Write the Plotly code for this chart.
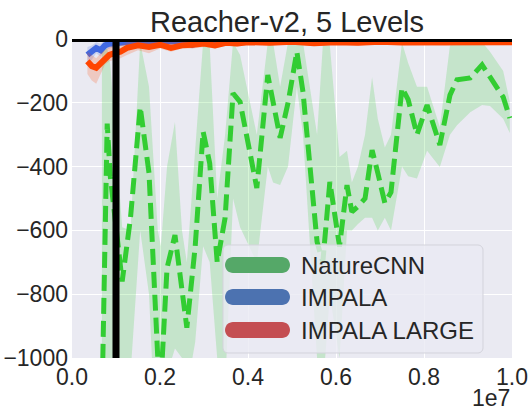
import plotly.graph_objects as go

# ---------------- data (x in units of 1e6 steps) ----------------
nature_x = [0.68, 0.8, 0.87, 1.14, 1.33, 1.55, 1.75, 1.95, 2.02, 2.16, 2.34, 2.5, 2.61, 2.8, 2.98,
            3.13, 3.3, 3.48, 3.66, 3.82, 4.2, 4.45, 4.57, 4.73, 4.91, 5.11, 5.25, 5.57, 5.7, 5.86,
            6.08, 6.25, 6.36, 6.5, 6.66, 6.82, 6.95, 7.11, 7.25, 7.5, 7.64, 7.84, 8.07, 8.36, 8.59,
            8.75, 9.05, 9.32, 9.5, 9.8, 9.95]
nature_mean = [-1150, -265, -430, -760, -560, -213, -420, -1000, -1080, -718, -615, -780, -905, -650, -290,
               -390, -700, -560, -170, -197, -467, -113, -197, -310, -200, -40, -166, -636, -700, -448,
               -650, -458, -542, -525, -500, -348, -420, -514, -480, -153, -190, -300, -207, -332, -176,
               -128, -122, -81, -119, -182, -248]
nature_upper = [-30, -30, -80, -590, -600, -10, -150, -600, -650, -400, -260, -600, -700, -350, -10,
                -20, -500, -300, -10, -50, -300, -10, -10, -150, -10, -10, -10, -300, -20, -20,
                -370, -350, -450, -400, -300, -120, -250, -340, -300, -12, -75, -150, -150, -276, -20,
                -10, -10, -10, -40, -100, -197]
nature_lower = [-1400, -1300, -1200, -1000, -1050, -600, -800, -1400, -1400, -1050, -970, -1000, -1100, -950, -650,
                -700, -1000, -1100, -500, -590, -700, -400, -450, -458, -400, -150, -300, -1000, -1100, -800,
                -1000, -600, -600, -580, -560, -560, -600, -560, -600, -400, -430, -437, -350, -401, -300,
                -270, -230, -207, -210, -250, -295]

impala_x = [0.35, 0.45, 0.55, 0.65, 0.75, 0.85, 1.0, 1.25, 1.5, 1.75, 2.0, 2.25, 2.5, 2.73, 3.0,
            3.5, 4.0, 4.5, 5.0, 5.5, 6.0, 6.5, 7.0, 7.5, 8.0, 8.5, 9.0, 9.5, 10.0]
impala_mean = [-50, -40, -28, -35, -20, -15, -12, -8, -6, -10, -5, -8, -6, -18, -6,
               -5, -7, -4, -6, -5, -4, -6, -5, -4, -5, -4, -5, -4, -5]
impala_upper = [-25, -20, -10, -15, -5, -3, -2, -1, -1, -2, -1, -1, -1, -5, -1,
                -1, -1, -1, -1, -1, -1, -1, -1, -1, -1, -1, -1, -1, -1]
impala_lower = [-80, -65, -45, -55, -35, -30, -25, -18, -14, -20, -12, -16, -14, -30, -13,
                -12, -14, -10, -12, -11, -10, -12, -10, -9, -10, -9, -10, -9, -10]

large_x = [0.35, 0.45, 0.55, 0.65, 0.75, 0.85, 0.95, 1.1, 1.25, 1.5, 1.75, 2.0, 2.25, 2.5, 2.75,
           3.0, 3.25, 3.5, 3.75, 4.0, 4.5, 5.0, 5.5, 6.0, 6.5, 7.0, 7.5, 8.0, 8.5, 9.0, 9.5, 10.0]
large_mean = [-70, -85, -90, -78, -62, -50, -45, -40, -28, -20, -25, -18, -28, -20, -18,
              -14, -20, -12, -14, -10, -12, -9, -13, -10, -12, -9, -11, -10, -12, -9, -11, -10]
large_upper = [-40, -50, -60, -45, -35, -25, -20, -20, -10, -5, -8, -5, -10, -5, -5,
               -3, -8, -3, -4, -2, -3, -2, -3, -2, -3, -2, -3, -2, -3, -2, -3, -2]
large_lower = [-110, -130, -140, -110, -80, -70, -65, -60, -50, -35, -45, -30, -40, -30, -30,
               -25, -30, -20, -24, -18, -20, -16, -22, -18, -20, -16, -19, -18, -20, -16, -19, -18]

level_switch = 1.0          # vertical marker (in 1e6 steps)
x_tick_vals = [0, 2, 4, 6, 8, 10]
x_tick_text = ["0.0", "0.2", "0.4", "0.6", "0.8", "1.0"]
y_tick_vals = [0, -200, -400, -600, -800, -1000]
y_tick_text = ["0", "\u2212200", "\u2212400", "\u2212600", "\u2212800", "\u22121000"]

legend_names = ["NatureCNN", "IMPALA", "IMPALA LARGE"]
legend_colors = ["#55a868", "#4c72b0", "#c44e52"]

SCALE = 1e6
W, H = 531, 406
ML, MR, MT, MB = 72, 19, 39, 48
PW, PH = W - ML - MR, H - MT - MB


def sx(v):
    return [a * SCALE for a in v]


def px2paper(px, py):
    return (px - ML) / PW, (H - MB - py) / PH


fig = go.Figure()


def band(x, up, lo, fillcolor):
    fig.add_trace(go.Scatter(x=sx(x), y=up, mode="lines", line=dict(width=0),
                             showlegend=False, hoverinfo="skip"))
    fig.add_trace(go.Scatter(x=sx(x), y=lo, mode="lines", line=dict(width=0),
                             fill="tonexty", fillcolor=fillcolor,
                             showlegend=False, hoverinfo="skip"))


# NatureCNN
band(nature_x, nature_upper, nature_lower, "rgba(50,205,50,0.2)")
fig.add_trace(go.Scatter(x=sx(nature_x), y=nature_mean, mode="lines", name=legend_names[0],
                         line=dict(color="#32cd32", width=5, dash="16px,7px"),
                         showlegend=False))
# IMPALA
band(impala_x, impala_upper, impala_lower, "rgba(65,105,225,0.2)")
fig.add_trace(go.Scatter(x=sx(impala_x), y=impala_mean, mode="lines", name=legend_names[1],
                         line=dict(color="#4169e1", width=6), showlegend=False))
# IMPALA LARGE
band(large_x, large_upper, large_lower, "rgba(255,69,0,0.2)")
fig.add_trace(go.Scatter(x=sx(large_x), y=large_mean, mode="lines", name=legend_names[2],
                         line=dict(color="#ff4500", width=6), showlegend=False))

# black reference lines
fig.add_shape(type="line", xref="x domain", yref="y", x0=0, x1=1, y0=0, y1=0,
              line=dict(color="black", width=6), layer="above")
fig.add_shape(type="line", xref="x", yref="y domain", x0=level_switch * SCALE,
              x1=level_switch * SCALE, y0=0, y1=1,
              line=dict(color="black", width=7), layer="above")


def rounded_rect(hw, hh, r):
    k = 0.5523 * r
    return (f"M {-hw + r},{-hh} L {hw - r},{-hh} "
            f"C {hw - r + k},{-hh} {hw},{-hh + r - k} {hw},{-hh + r} "
            f"L {hw},{hh - r} "
            f"C {hw},{hh - r + k} {hw - r + k},{hh} {hw - r},{hh} "
            f"L {-hw + r},{hh} "
            f"C {-hw + r - k},{hh} {-hw},{hh - r + k} {-hw},{hh - r} "
            f"L {-hw},{-hh + r} "
            f"C {-hw},{-hh + r - k} {-hw + r - k},{-hh} {-hw + r},{-hh} Z")


# legend (drawn manually to match the thick round-capped symbols)
box_l, box_r, box_t, box_b = 223, 483, 245, 353
cx, cy = px2paper((box_l + box_r) / 2, (box_t + box_b) / 2)
fig.add_shape(type="path", xref="paper", yref="paper", xsizemode="pixel", ysizemode="pixel",
              xanchor=cx, yanchor=cy,
              path=rounded_rect((box_r - box_l) / 2, (box_b - box_t) / 2, 5),
              fillcolor="rgba(234,234,242,0.8)", line=dict(color="#d3d3db", width=1),
              layer="above")
item_y = [265, 297, 330]
for name, col, iy in zip(legend_names, legend_colors, item_y):
    sxp, syp = px2paper(257.5, iy)
    fig.add_shape(type="path", xref="paper", yref="paper", xsizemode="pixel", ysizemode="pixel",
                  xanchor=sxp, yanchor=syp, path=rounded_rect(32.5, 8, 8),
                  fillcolor=col, line=dict(width=0), layer="above")
    tx, ty = px2paper(299, iy)
    fig.add_annotation(text=name, xref="paper", yref="paper", x=tx, y=ty,
                       xanchor="left", yanchor="middle", showarrow=False,
                       font=dict(size=24, color="#262626"))

ex, ey = px2paper(512, 398)
fig.add_annotation(text="1e7", xref="paper", yref="paper", x=ex, y=ey,
                   xanchor="right", yanchor="middle", showarrow=False,
                   font=dict(size=23, color="#262626"))

tx0, _ = px2paper(287, 0)
fig.update_layout(
    width=W, height=H,
    margin=dict(l=ML, r=MR, t=MT, b=MB),
    paper_bgcolor="white", plot_bgcolor="#eaeaf2",
    font=dict(family="Liberation Sans, Arial, sans-serif", size=23, color="#262626"),
    title=dict(text="Reacher-v2, 5 Levels", xref="paper", x=tx0, xanchor="center",
               yref="paper", y=1, yanchor="bottom", pad=dict(b=7, t=0), automargin=False,
               font=dict(size=29, color="#262626")),
    showlegend=False,
    xaxis=dict(range=[0, 10 * SCALE], tickvals=[v * SCALE for v in x_tick_vals],
               ticktext=x_tick_text, showgrid=True, gridcolor="white", gridwidth=1,
               zeroline=False, showline=False, ticks="", ticklen=0, ticklabelstandoff=3,
               automargin=False),
    yaxis=dict(range=[-1000, 0], tickvals=y_tick_vals, ticktext=y_tick_text,
               showgrid=True, gridcolor="white", gridwidth=1, zeroline=False,
               showline=False, ticks="", ticklen=0, ticklabelstandoff=3, automargin=False),
)

fig.write_html("out.html", config={"displayModeBar": False},
               post_script="document.body.style.margin='0';")
